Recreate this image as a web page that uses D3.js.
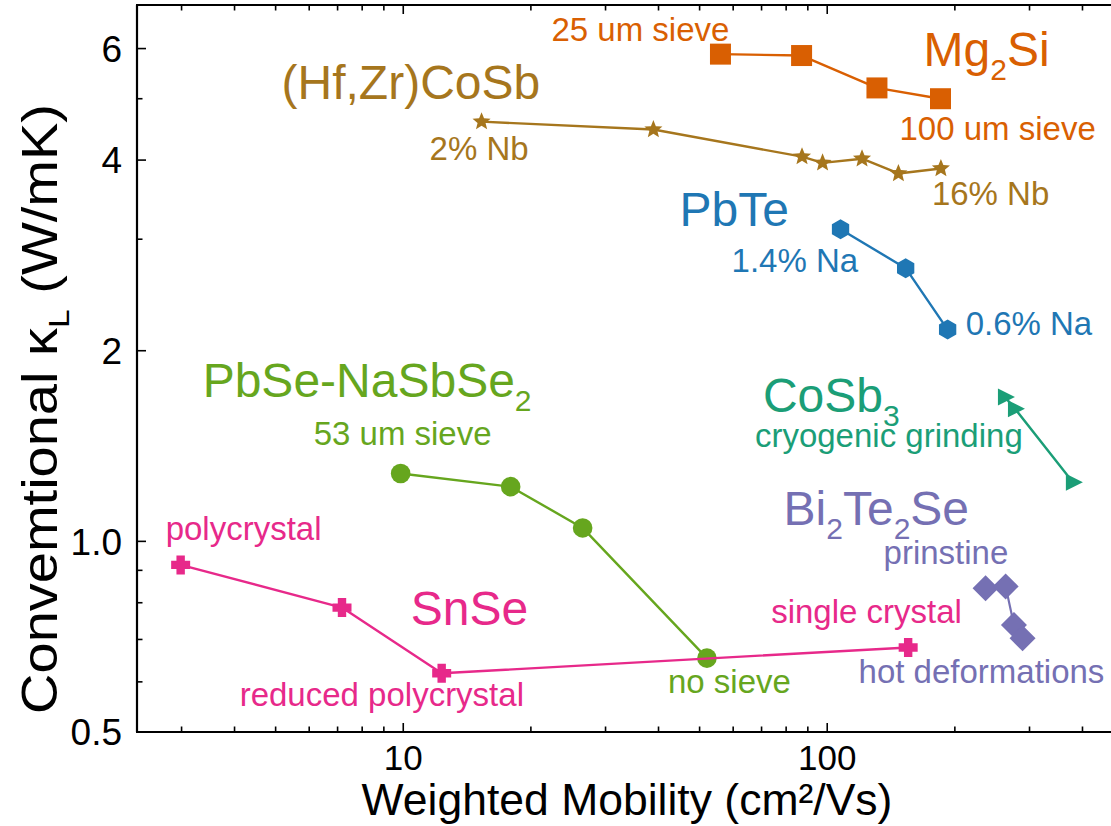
<!DOCTYPE html>
<html>
<head>
<meta charset="utf-8">
<script src="https://cdn.jsdelivr.net/npm/d3@7"></script>
<style>
  html, body { margin: 0; padding: 0; background: #fff; }
  svg { display: block; font-family: "Liberation Sans", Arial, Helvetica, sans-serif; }
</style>
</head>
<body>
<svg id="chart" width="1111" height="826"></svg>
<script>
// ---- data: weighted mobility (cm²/Vs) vs conventional lattice thermal conductivity (W/mK)
const mg2siMu    = [56, 87, 131, 185];
const mg2siKappa = [5.88, 5.85, 5.20, 5.00];

const hfzrMu    = [15.3, 38.9, 87.2, 97.5, 120.8, 147.2, 185.4];
const hfzrKappa = [4.60, 4.47, 4.05, 3.96, 4.02, 3.81, 3.88];

const pbteMu    = [107.5, 153.1, 192.3];
const pbteKappa = [3.11, 2.70, 2.16];

const cosb3Mu    = [262.5, 277.2, 379.7];
const cosb3Kappa = [1.69, 1.62, 1.24];

const bi2te2seMu    = [236.3, 263.5, 275.7, 288.9];
const bi2te2seKappa = [0.843, 0.849, 0.738, 0.703];

const pbseMu    = [9.86, 17.92, 26.49, 52.03];
const pbseKappa = [1.28, 1.22, 1.05, 0.654];

const snseMu    = [2.985, 7.17, 12.32, 155.2];
const snseKappa = [0.918, 0.786, 0.619, 0.680];

const xMajorTicks = [10, 100];
const xMinorTicks = [3, 4, 5, 6, 7, 8, 9, 20, 30, 40, 50, 60, 70, 80, 90, 200, 300, 400];
const yMajorTicks = [0.5, 1.0, 2, 4, 6];
const yMajorLabels = ["0.5", "1.0", "2", "4", "6"];
const yMinorTicks = [0.6, 0.7, 0.8, 0.9, 3, 5];

// ---- layout
const plot = { left: 137, right: 1111, top: 5, bottom: 732 };

const svg = d3.select("#chart");

const x = d3.scaleLog().domain([2.355, 467]).range([plot.left, plot.right]);
const y = d3.scaleLog().domain([0.5, 7.03]).range([plot.bottom, plot.top]);

// ---- marker shapes (paths centred on 0,0)
const polygon = pts => "M" + pts.map(d => d.join(",")).join("L") + "Z";
const shapes = {
  square: () => "M-10.5,-10.5H10.5V10.5H-10.5Z",
  star: () => {
    const ro = 9.5, ri = 4.2;
    return polygon(d3.range(10).map(i => {
      const r = i % 2 ? ri : ro;
      const a = -Math.PI / 2 + i * Math.PI / 5;
      return [r * Math.cos(a), r * Math.sin(a)];
    }));
  },
  hexagon: () => {
    const r = 10;
    return polygon(d3.range(6).map(i => {
      const a = -Math.PI / 2 + i * Math.PI / 3;
      return [r * Math.cos(a), r * Math.sin(a)];
    }));
  },
  triangleRight: () => "M10,0L-7,-8.5L-7,8.5Z",
  diamond: () => "M0,-13L13,0L0,13L-13,0Z",
  plus: () => {
    const a = 4.2, b = 9.5;
    return `M${-a},${-b}H${a}V${-a}H${b}V${a}H${a}V${b}H${-a}V${a}H${-b}V${-a}H${-a}Z`;
  },
  circle: () => d3.arc()({ innerRadius: 0, outerRadius: 9.8, startAngle: 0, endAngle: 2 * Math.PI })
};

// ---- series definitions
const series = [
  { name: "Mg2Si", mu: mg2siMu, k: mg2siKappa, color: "#D95F02", shape: "square", lw: 2.4 },
  { name: "HfZrCoSb", mu: hfzrMu, k: hfzrKappa, color: "#A6761D", shape: "star", lw: 2.4 },
  { name: "PbTe", mu: pbteMu, k: pbteKappa, color: "#1F77B4", shape: "hexagon", lw: 2.4 },
  { name: "CoSb3", mu: cosb3Mu, k: cosb3Kappa, color: "#1B9E77", shape: "triangleRight", lw: 2.4 },
  { name: "Bi2Te2Se", mu: bi2te2seMu, k: bi2te2seKappa, color: "#7570B3", shape: "diamond", lw: 2.2 },
  { name: "PbSe", mu: pbseMu, k: pbseKappa, color: "#66A61E", shape: "circle", lw: 2.4 },
  { name: "SnSe", mu: snseMu, k: snseKappa, color: "#E7298A", shape: "plus", lw: 2.4 }
];

const line = d3.line().x(d => x(d[0])).y(d => y(d[1]));

series.forEach(s => {
  const pts = s.mu.map((m, i) => [m, s.k[i]]);
  const g = svg.append("g").attr("class", "series");
  g.append("path")
    .attr("d", line(pts))
    .attr("fill", "none")
    .attr("stroke", s.color)
    .attr("stroke-width", s.lw)
    .attr("stroke-linejoin", "round");
  g.selectAll("path.mk").data(pts).join("path")
    .attr("class", "mk")
    .attr("d", shapes[s.shape]())
    .attr("transform", d => `translate(${x(d[0])},${y(d[1])})`)
    .attr("fill", s.color);
});

// ---- annotations, anchored to a point of their series with a pixel offset
const small = 33, big = 48, sub = 30, subShift = 14;
const annotations = [
  { s: "Mg2Si", i: 0, dx: -169, dy: -13, size: small, parts: [["25 um sieve"]] },
  { s: "Mg2Si", i: 3, dx: -17, dy: -33, size: big, parts: [["Mg"], ["2", "sub"], ["Si"]] },
  { s: "Mg2Si", i: 3, dx: -41, dy: 41, size: small, parts: [["100 um sieve"]] },
  { s: "HfZrCoSb", i: 0, dx: -200, dy: -23, size: big, parts: [["(Hf,Zr)CoSb"]] },
  { s: "HfZrCoSb", i: 0, dx: -52, dy: 38, size: small, parts: [["2% Nb"]] },
  { s: "HfZrCoSb", i: 6, dx: -9, dy: 36.5, size: small, parts: [["16% Nb"]] },
  { s: "PbTe", i: 0, dx: -161, dy: -3, size: big, parts: [["PbTe"]] },
  { s: "PbTe", i: 0, dx: -109, dy: 43, size: small, parts: [["1.4% Na"]] },
  { s: "PbTe", i: 2, dx: 18, dy: 5, size: small, parts: [["0.6% Na"]] },
  { s: "CoSb3", i: 0, dx: -242, dy: 15, size: big, parts: [["CoSb"], ["3", "sub"]] },
  { s: "CoSb3", i: 0, dx: -250, dy: 50, size: small, parts: [["cryogenic grinding"]] },
  { s: "Bi2Te2Se", i: 0, dx: -202, dy: -63, size: big, parts: [["Bi"], ["2", "sub"], ["Te"], ["2", "sub"], ["Se"]] },
  { s: "Bi2Te2Se", i: 0, dx: -102, dy: -24, size: small, parts: [["prinstine"]] },
  { s: "Bi2Te2Se", i: 3, dx: -164, dy: 45, size: small, parts: [["hot deformations"]] },
  { s: "PbSe", i: 0, dx: -198, dy: -76, size: big, parts: [["PbSe-NaSbSe"], ["2", "sub"]] },
  { s: "PbSe", i: 0, dx: -87, dy: -28, size: small, parts: [["53 um sieve"]] },
  { s: "PbSe", i: 3, dx: -39, dy: 35, size: small, parts: [["no sieve"]] },
  { s: "SnSe", i: 0, dx: -15, dy: -25, size: small, parts: [["polycrystal"]] },
  { s: "SnSe", i: 2, dx: -31, dy: -48, size: big, parts: [["SnSe"]] },
  { s: "SnSe", i: 2, dx: -202, dy: 33, size: small, parts: [["reduced polycrystal"]] },
  { s: "SnSe", i: 3, dx: -137, dy: -24, size: small, parts: [["single crystal"]] }
];

const byName = Object.fromEntries(series.map(s => [s.name, s]));
annotations.forEach(a => {
  const s = byName[a.s];
  const t = svg.append("text")
    .attr("x", x(s.mu[a.i]) + a.dx)
    .attr("y", y(s.k[a.i]) + a.dy)
    .attr("fill", s.color)
    .attr("font-size", a.size);
  let shifted = false;
  a.parts.forEach(([txt, kind]) => {
    const ts = t.append("tspan").text(txt);
    if (kind === "sub") {
      ts.attr("font-size", sub).attr("dy", subShift);
      shifted = true;
    } else if (shifted) {
      ts.attr("dy", -subShift);
      shifted = false;
    }
  });
});

// ---- frame and ticks
const frame = svg.append("g").attr("stroke", "#000").attr("fill", "none");
frame.append("line").attr("x1", plot.left).attr("x2", plot.left).attr("y1", plot.top).attr("y2", plot.bottom).attr("stroke-width", 2.2);
frame.append("line").attr("x1", plot.left - 1).attr("x2", plot.right).attr("y1", plot.bottom).attr("y2", plot.bottom).attr("stroke-width", 2.2);
frame.append("line").attr("x1", plot.left - 1).attr("x2", plot.right).attr("y1", plot.top).attr("y2", plot.top).attr("stroke-width", 2.2);

const majorLen = 9, minorLen = 5.5;
// bottom and top ticks point into the plot
[[xMajorTicks, majorLen], [xMinorTicks, minorLen]].forEach(([ticks, len]) => {
  ticks.forEach(v => {
    frame.append("line").attr("x1", x(v)).attr("x2", x(v))
      .attr("y1", plot.bottom).attr("y2", plot.bottom - len).attr("stroke-width", 1.6);
    frame.append("line").attr("x1", x(v)).attr("x2", x(v))
      .attr("y1", plot.top).attr("y2", plot.top + len).attr("stroke-width", 1.6);
  });
});
[[yMajorTicks, majorLen], [yMinorTicks, minorLen]].forEach(([ticks, len]) => {
  ticks.forEach(v => {
    frame.append("line").attr("x1", plot.left).attr("x2", plot.left + len)
      .attr("y1", y(v)).attr("y2", y(v)).attr("stroke-width", 1.6);
  });
});

// tick labels
svg.append("g").selectAll("text").data(xMajorTicks).join("text")
  .attr("x", d => x(d)).attr("y", 770)
  .attr("text-anchor", "middle")
  .attr("font-size", 35)
  .attr("fill", "#000")
  .text(d => d3.format("d")(d));

svg.append("g").selectAll("text").data(yMajorTicks).join("text")
  .attr("x", 122).attr("y", d => y(d))
  .attr("dy", "0.36em")
  .attr("text-anchor", "end")
  .attr("font-size", 37)
  .attr("fill", "#000")
  .text((d, i) => yMajorLabels[i]);

// axis titles
svg.append("text")
  .attr("x", 627).attr("y", 815)
  .attr("text-anchor", "middle")
  .attr("font-size", 44.5)
  .attr("fill", "#000")
  .text("Weighted Mobility (cm²/Vs)");

const yt = svg.append("text")
  .attr("transform", "translate(57,409) rotate(-90) scale(1.12,1)")
  .attr("text-anchor", "middle")
  .attr("font-size", 50)
  .attr("fill", "#000");
yt.append("tspan").text("Convemtional  κ");
yt.append("tspan").text("L").attr("font-size", 30).attr("dy", 12);
yt.append("tspan").text(" (W/mK)").attr("dy", -12);
</script>
</body>
</html>
